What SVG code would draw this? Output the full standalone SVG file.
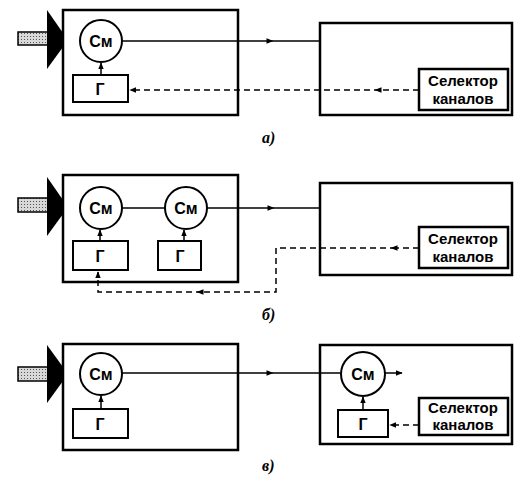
<svg xmlns="http://www.w3.org/2000/svg" width="530" height="485" viewBox="0 0 530 485">
<defs>
<pattern id="dots" width="3" height="3" patternUnits="userSpaceOnUse">
<rect width="3" height="3" fill="#d8d8d8"/>
<rect width="1" height="1" fill="#555"/>
</pattern>
<marker id="ah" viewBox="0 0 10 10" refX="9" refY="5" markerWidth="7" markerHeight="7" markerUnits="userSpaceOnUse" orient="auto">
<path d="M0,1 L10,5 L0,9 Z" fill="#000"/>
</marker>
<marker id="mid" viewBox="0 0 10 10" refX="5" refY="5" markerWidth="8" markerHeight="7" markerUnits="userSpaceOnUse" orient="auto">
<path d="M0,1 L10,5 L0,9 Z" fill="#000"/>
</marker>
</defs>
<style>
.box{fill:#fff;stroke:#000;stroke-width:2.5}
.sel{fill:#fff;stroke:#000;stroke-width:2.5}
.cir{fill:#fff;stroke:#000;stroke-width:2}
.gen{fill:#fff;stroke:#000;stroke-width:2}
.ln{fill:none;stroke:#000;stroke-width:1.5}
.dl{fill:none;stroke:#000;stroke-width:1.5;stroke-dasharray:6,4}
.bar{fill:url(#dots);stroke:#000;stroke-width:1.5}
.horn{fill:#000}
.t{font-family:"Liberation Sans",Arial,sans-serif;font-weight:bold;font-size:16px;text-anchor:middle;fill:#000}
.ts{font-family:"Liberation Sans",Arial,sans-serif;font-weight:bold;font-size:15px;text-anchor:middle;fill:#000}
.lab{font-family:"Liberation Serif","Times New Roman",serif;font-style:italic;font-weight:bold;font-size:16px;fill:#000}
</style>

<!-- Panel a -->
<g id="a-antenna">
<rect class="bar" x="18" y="32" width="30" height="13"/>
<path class="horn" d="M47,10 L63,33 L63,47 L47,69 Z"/>
</g>
<g id="a-box"><rect class="box" x="63" y="10" width="175" height="105"/></g>
<g id="a-mix"><circle class="cir" cx="101" cy="41" r="21"/><text class="t" x="101" y="47">См</text></g>
<g id="a-gen"><rect class="gen" x="73" y="75" width="55" height="27"/><text class="t" x="100" y="95">Г</text></g>
<g id="a-rbox"><rect class="box" x="320" y="23" width="192" height="92"/></g>
<g id="a-sel"><rect class="sel" x="419" y="69" width="89" height="41"/><text class="ts" x="463" y="86">Селектор</text><text class="ts" x="463" y="104">каналов</text></g>

<!-- Panel b -->
<g id="b-antenna">
<rect class="bar" x="18" y="198" width="30" height="14"/>
<path class="horn" d="M47,177 L63,200 L63,214 L47,236 Z"/>
</g>
<g id="b-box"><rect class="box" x="63" y="175" width="175" height="107"/></g>
<g id="b-mix1"><circle class="cir" cx="101" cy="208" r="21"/><text class="t" x="101" y="214">См</text></g>
<g id="b-mix2"><circle class="cir" cx="186" cy="208" r="21"/><text class="t" x="186" y="214">См</text></g>
<g id="b-gen1"><rect class="gen" x="73" y="241" width="55" height="29"/><text class="t" x="100" y="262">Г</text></g>
<g id="b-gen2"><rect class="gen" x="158" y="241" width="43" height="29"/><text class="t" x="180" y="262">Г</text></g>
<g id="b-rbox"><rect class="box" x="320" y="183" width="192" height="92"/></g>
<g id="b-sel"><rect class="sel" x="419" y="227" width="89" height="41"/><text class="ts" x="463" y="244">Селектор</text><text class="ts" x="463" y="262">каналов</text></g>

<!-- Panel c -->
<g id="c-antenna">
<rect class="bar" x="18" y="367" width="30" height="14"/>
<path class="horn" d="M47,345 L63,367 L63,381 L47,403 Z"/>
</g>
<g id="c-box"><rect class="box" x="63" y="344" width="175" height="106"/></g>
<g id="c-mix"><circle class="cir" cx="101" cy="374" r="21"/><text class="t" x="101" y="380">См</text></g>
<g id="c-gen"><rect class="gen" x="73" y="409" width="55" height="29"/><text class="t" x="100" y="430">Г</text></g>
<g id="c-rbox"><rect class="box" x="320" y="345" width="192" height="99"/></g>
<g id="c-mix2"><circle class="cir" cx="363" cy="374" r="22"/><text class="t" x="363" y="380">См</text></g>
<g id="c-gen2"><rect class="gen" x="338" y="410" width="50" height="27"/><text class="t" x="363" y="430">Г</text></g>
<g id="c-sel"><rect class="sel" x="419" y="398" width="89" height="37"/><text class="ts" x="463" y="413">Селектор</text><text class="ts" x="463" y="430">каналов</text></g>

<g id="connectors">
<!-- a -->
<path class="ln" d="M122,41 H270" marker-end="url(#mid)"/>
<path class="ln" d="M268,41 H320"/>
<path class="ln" d="M101,75 V63" marker-end="url(#ah)"/>
<path class="dl" d="M419,90 H378" marker-end="url(#mid)"/>
<path class="dl" d="M380,90 H130" marker-end="url(#ah)"/>
<!-- b -->
<path class="ln" d="M122,208 H165"/>
<path class="ln" d="M207,208 H271" marker-end="url(#mid)"/>
<path class="ln" d="M269,208 H320"/>
<path class="ln" d="M100,241 V230" marker-end="url(#ah)"/>
<path class="ln" d="M184,241 V230" marker-end="url(#ah)"/>
<path class="dl" d="M419,248 H394" marker-end="url(#mid)"/>
<path class="dl" d="M396,248 H276 V292 H200" marker-end="url(#mid)"/>
<path class="dl" d="M202,292 H98 V272" marker-end="url(#ah)"/>
<!-- c -->
<path class="ln" d="M122,373 H270" marker-end="url(#mid)"/>
<path class="ln" d="M268,373 H341"/>
<path class="ln" d="M385,373 H402" marker-end="url(#ah)"/>
<path class="ln" d="M101,409 V396" marker-end="url(#ah)"/>
<path class="ln" d="M363,410 V397" marker-end="url(#ah)"/>
<path class="dl" d="M419,425 H390" marker-end="url(#ah)"/>
</g>

<text class="lab" x="262" y="143">а)</text>
<text class="lab" x="262" y="320">б)</text>
<text class="lab" x="262" y="471">в)</text>
</svg>
